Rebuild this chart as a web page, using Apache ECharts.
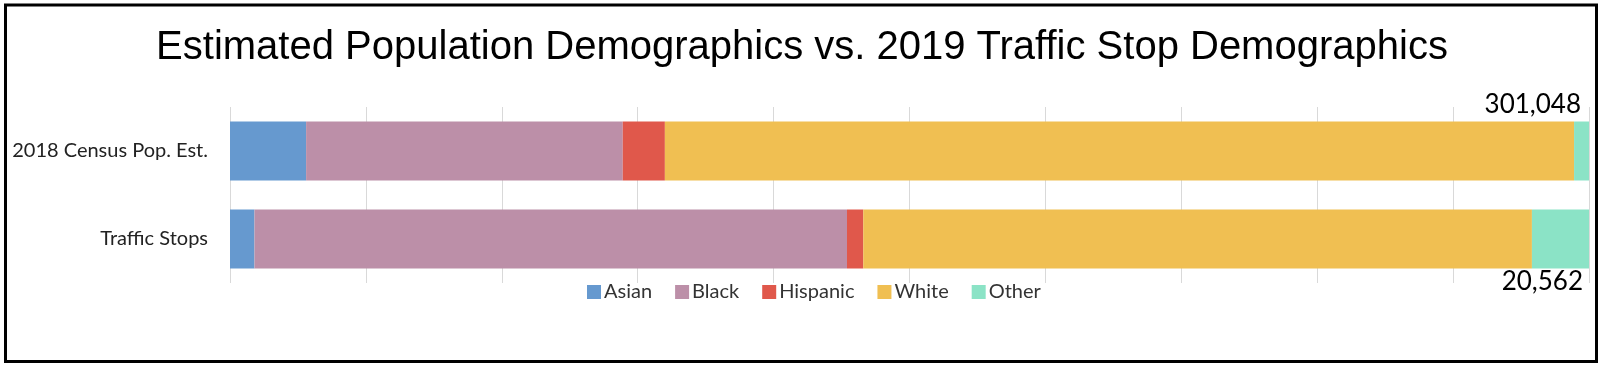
<!DOCTYPE html>
<html>
<head>
<meta charset="utf-8">
<script src="https://cdn.jsdelivr.net/npm/echarts@6/dist/echarts.min.js"></script>
<style>html,body{margin:0;padding:0;background:#fff;}#c{width:1600px;height:369px;}</style>
</head>
<body>
<div id="c"></div>
<script>
const categories = ['2018 Census Pop. Est.', 'Traffic Stops'];
const seriesNames = ['Asian', 'Black', 'Hispanic', 'White', 'Other'];
const asian = [5.6, 1.8];
const black = [23.3, 43.6];
const hispanic = [3.1, 1.2];
const white = [66.9, 49.2];
const other = [1.1, 4.2];
const totals = [301048, 20562];
const colors = ['#6699CF', '#BC8FA8', '#E0584B', '#F0BF52', '#8BE3C6'];

const values = [asian, black, hispanic, white, other];
const font = 'Lato, "Open Sans", sans-serif';

const series = seriesNames.map((name, i) => ({
  name: name,
  type: 'bar',
  stack: 'total',
  barWidth: 59,
  itemStyle: { color: colors[i] },
  emphasis: { disabled: true },
  data: values[i].map((v, j) => {
    const d = { value: v };
    if (i === seriesNames.length - 1) {
      d.label = {
        show: true,
        formatter: () => totals[j].toLocaleString('en-US'),
        position: j === 0 ? ['100%', 0] : ['100%', '100%'],
        align: 'right',
        verticalAlign: j === 0 ? 'bottom' : 'top',
        offset: j === 0 ? [-8, -4] : [-6, 0],
        fontSize: 26,
        fontFamily: font,
        color: '#000'
      };
    }
    return d;
  })
}));

const chart = echarts.init(document.getElementById('c'));
chart.setOption({
  animation: false,
  title: {
    text: 'Estimated Population Demographics vs. 2019 Traffic Stop Demographics',
    left: 797, top: 23, textAlign: 'center',
    textStyle: { fontFamily: '"Liberation Sans", Arial, sans-serif', fontSize: 40, fontWeight: 'normal', color: '#000' }
  },
  legend: {
    data: seriesNames,
    left: 582, top: 277,
    itemWidth: 14, itemHeight: 14, itemGap: 23,
    icon: 'rect',
    textStyle: { fontFamily: font, fontSize: 20, color: '#333', padding: [0, 0, 0, -2] }
  },
  grid: { left: 230, top: 107, width: 1359, height: 176, containLabel: false },
  xAxis: {
    type: 'value', min: 0, max: 100, interval: 10,
    axisLabel: { show: false }, axisTick: { show: false }, axisLine: { show: false },
    splitLine: { show: true, lineStyle: { color: '#d9d9d9', width: 1 } }
  },
  yAxis: {
    type: 'category', data: categories, inverse: true,
    axisLine: { show: false }, axisTick: { show: false },
    axisLabel: { fontFamily: font, fontSize: 20, color: '#222', margin: 22 }
  },
  series: series,
  graphic: [{
    type: 'rect', silent: true,
    shape: { x: 5.5, y: 5, width: 1591, height: 356.5 },
    style: { fill: 'none', stroke: '#000', lineWidth: 3 }
  }]
});
</script>
</body>
</html>
